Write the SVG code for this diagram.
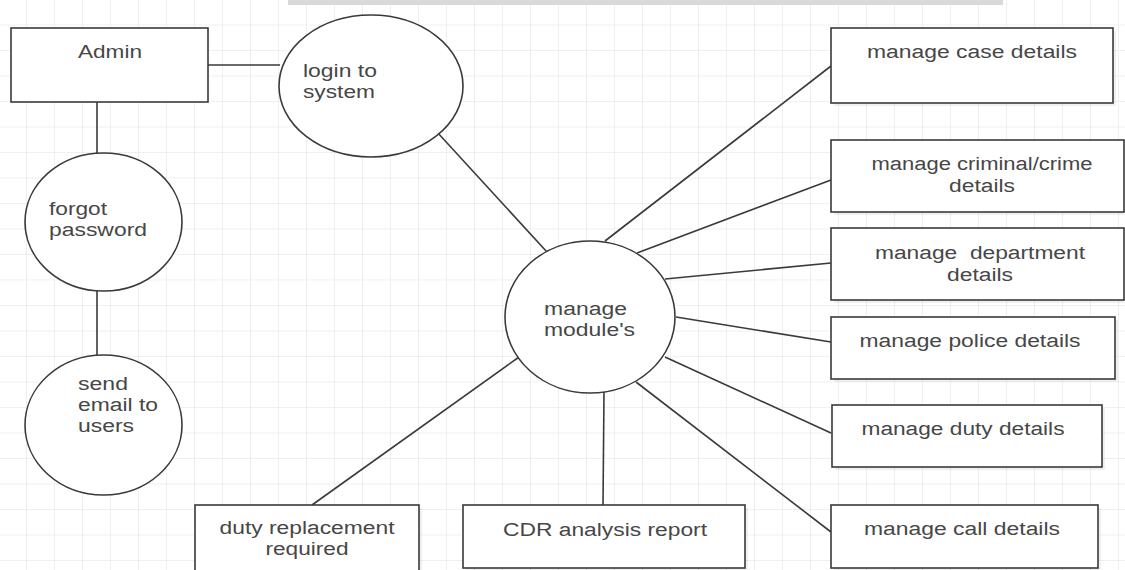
<svg xmlns="http://www.w3.org/2000/svg" width="1125" height="570" viewBox="0 0 1125 570">
<defs>
<pattern id="grid" x="26" y="24.5" width="28" height="25.5" patternUnits="userSpaceOnUse">
<path d="M0 0 V25.5 M0 0 H28" fill="none" stroke="#ebebeb" stroke-width="1.6"/>
</pattern>
<style>
.shape{fill:#ffffff;stroke:#3a3a3a;stroke-width:1.6}
.shadow{fill:#000000;opacity:0.06}
.conn line{stroke:#3a3a3a;stroke-width:1.6}
text{font-family:"Liberation Sans",Arial,sans-serif;font-size:18px;fill:#474747}
.c{text-anchor:middle}
.pre{white-space:pre}
</style>
</defs>
<rect width="1125" height="570" fill="#ffffff"/>
<rect width="1125" height="570" fill="url(#grid)"/>
<rect x="288" y="0" width="715" height="5" fill="#d9d9d9"/>

<g class="conn" id="connectors">
<line x1="208" y1="65" x2="280" y2="65"/>
<line x1="97" y1="102" x2="97" y2="154"/>
<line x1="97" y1="291" x2="97" y2="356"/>
<line x1="437" y1="132" x2="547" y2="252"/>
<line x1="605" y1="241" x2="831" y2="66"/>
<line x1="637" y1="253" x2="831" y2="180"/>
<line x1="665" y1="279" x2="831" y2="263"/>
<line x1="676" y1="317" x2="831" y2="342"/>
<line x1="665" y1="357" x2="831" y2="433"/>
<line x1="636" y1="382" x2="831" y2="532"/>
<line x1="519" y1="357" x2="312" y2="505"/>
<line x1="604" y1="392" x2="603" y2="505"/>
</g>

<g id="admin">
<rect class="shape" x="11" y="28" width="197" height="74"/>
<text class="c" x="110" y="58" textLength="64" lengthAdjust="spacingAndGlyphs">Admin</text>
</g>

<g id="login">
<ellipse class="shape" cx="371" cy="86" rx="92" ry="71"/>
<text x="303" y="77" textLength="74" lengthAdjust="spacingAndGlyphs">login to</text>
<text x="303" y="98" textLength="72" lengthAdjust="spacingAndGlyphs">system</text>
</g>

<g id="forgot">
<ellipse class="shape" cx="103.5" cy="222" rx="78.5" ry="69"/>
<text x="49" y="215" textLength="58" lengthAdjust="spacingAndGlyphs">forgot</text>
<text x="49" y="236" textLength="98" lengthAdjust="spacingAndGlyphs">password</text>
</g>

<g id="send">
<ellipse class="shape" cx="103.5" cy="425" rx="78.5" ry="70"/>
<text x="78" y="390" textLength="50" lengthAdjust="spacingAndGlyphs">send</text>
<text x="78" y="411" textLength="80" lengthAdjust="spacingAndGlyphs">email to</text>
<text x="78" y="432" textLength="56" lengthAdjust="spacingAndGlyphs">users</text>
</g>

<g id="manage">
<ellipse class="shape" cx="590" cy="317" rx="85" ry="76"/>
<text x="544" y="315" textLength="83" lengthAdjust="spacingAndGlyphs">manage</text>
<text x="544" y="336" textLength="91" lengthAdjust="spacingAndGlyphs">module's</text>
</g>

<g id="case">
<rect class="shadow" x="834" y="31" width="282" height="75"/>
<rect class="shape" x="831" y="28" width="282" height="75"/>
<text class="c" x="972" y="58" textLength="210" lengthAdjust="spacingAndGlyphs">manage case details</text>
</g>

<g id="criminal">
<rect class="shadow" x="834" y="143" width="294" height="72"/>
<rect class="shape" x="831" y="140" width="293" height="72"/>
<text class="c" x="982" y="170" textLength="221" lengthAdjust="spacingAndGlyphs">manage criminal/crime</text>
<text class="c" x="982" y="192" textLength="66" lengthAdjust="spacingAndGlyphs">details</text>
</g>

<g id="department">
<rect class="shadow" x="834" y="231" width="294" height="72"/>
<rect class="shape" x="831" y="228" width="293" height="72"/>
<text class="c pre" x="980" y="259" textLength="210" lengthAdjust="spacingAndGlyphs">manage  department</text>
<text class="c" x="980" y="281" textLength="66" lengthAdjust="spacingAndGlyphs">details</text>
</g>

<g id="police">
<rect class="shadow" x="834" y="320" width="284" height="62"/>
<rect class="shape" x="831" y="317" width="284" height="62"/>
<text class="c" x="970" y="347" textLength="221" lengthAdjust="spacingAndGlyphs">manage police details</text>
</g>

<g id="duty">
<rect class="shadow" x="835" y="408" width="270" height="62"/>
<rect class="shape" x="832" y="405" width="270" height="62"/>
<text class="c" x="963" y="435" textLength="203" lengthAdjust="spacingAndGlyphs">manage duty details</text>
</g>

<g id="call">
<rect class="shadow" x="834" y="508" width="267" height="63"/>
<rect class="shape" x="831" y="505" width="267" height="63"/>
<text class="c" x="962" y="535" textLength="196" lengthAdjust="spacingAndGlyphs">manage call details</text>
</g>

<g id="replacement">
<rect class="shadow" x="198" y="508" width="224" height="70"/>
<rect class="shape" x="195" y="505" width="224" height="70"/>
<text class="c" x="307" y="534" textLength="175" lengthAdjust="spacingAndGlyphs">duty replacement</text>
<text class="c" x="307" y="555" textLength="83" lengthAdjust="spacingAndGlyphs">required</text>
</g>

<g id="cdr">
<rect class="shadow" x="466" y="508" width="282" height="63"/>
<rect class="shape" x="463" y="505" width="282" height="63"/>
<text class="c" x="605" y="536" textLength="204" lengthAdjust="spacingAndGlyphs">CDR analysis report</text>
</g>
</svg>
